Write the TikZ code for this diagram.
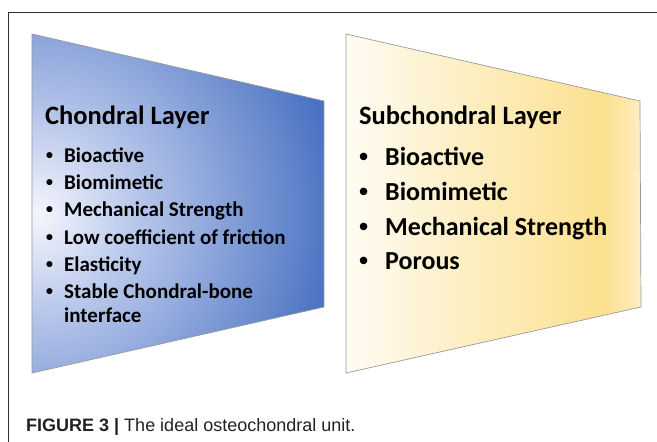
\documentclass[tikz,border=0pt]{standalone}
\usepackage{fontspec}
\setmainfont{Carlito}
\newfontfamily\capfont{Liberation Sans}
\definecolor{blA}{HTML}{F4F6FC}
\definecolor{blB}{HTML}{B9C8EB}
\definecolor{blC}{HTML}{4A72C2}
\definecolor{yA}{HTML}{FEFBF1}
\definecolor{yB}{HTML}{FDF0C9}
\definecolor{yC}{HTML}{FDE6A4}
\definecolor{yD}{HTML}{FCE08E}
\definecolor{yE}{HTML}{FDE8AE}
\definecolor{yF}{HTML}{FDF0CC}
\definecolor{edgec}{HTML}{9A9A9A}
\definecolor{framec}{HTML}{333333}
\definecolor{capc}{HTML}{222222}
\pgfdeclareradialshading{bluesh}{\pgfpoint{0bp}{0bp}}{color(0bp)=(blA); color(7bp)=(blB); color(22bp)=(blC); color(50bp)=(blC)}
\pgfdeclarehorizontalshading{yelsh}{100bp}{color(0bp)=(yA); color(25.7bp)=(yA); color(42.6bp)=(yB); color(59.6bp)=(yC); color(68bp)=(yD); color(73.1bp)=(yE); color(75bp)=(yF); color(100bp)=(yF)}
\tikzset{
  title/.style={anchor=base west, inner sep=0pt, font=\fontsize{26.5}{30}\selectfont\bfseries},
  itemA/.style={anchor=base west, inner sep=0pt, font=\fontsize{21}{24}\selectfont\bfseries},
  itemB/.style={anchor=base west, inner sep=0pt, font=\fontsize{26}{30}\selectfont\bfseries},
  panel/.style={draw=edgec, line width=0.7pt},
}
\newcommand{\bulA}{\llap{{\capfont\textbullet}\hspace{11pt}}}
\newcommand{\bulB}{\llap{{\capfont\textbullet}\hspace{17pt}}}
\begin{document}
\begin{tikzpicture}[x=1pt,y=-1pt]
\useasboundingbox (0,0) rectangle (657,442);
\draw[framec, line width=1pt] (657,12) -- (8,12) -- (8,442);
% chondral panel
\path[panel, path picture={\shade[shading=bluesh] (38,215) circle (340);}]
  (32,34) -- (324,101) -- (324,307) -- (32,373) -- cycle;
% subchondral panel
\path[panel, path picture={\shade[shading=yelsh] (346,34) rectangle (641,373);}]
  (346,34) -- (640,101) -- (641,307) -- (346,373) -- cycle;
% texts chondral
\node[title] (ct) at (45,124) {Chondral Layer};
\node[itemA] (c1) at (64,162) {\bulA Bioactive};
\node[itemA] (c2) at (64,189) {\bulA Biomimetic};
\node[itemA] (c3) at (64,216) {\bulA Mechanical Strength};
\node[itemA] (c4) at (64,244) {\bulA Low coefficient of friction};
\node[itemA] (c5) at (64,271) {\bulA Elasticity};
\node[itemA] (c6) at (64,298) {\bulA Stable Chondral-bone};
\node[itemA] (c7) at (64,322) {interface};
% texts subchondral
\node[title] (st) at (359,124) {Subchondral Layer};
\node[itemB] (s1) at (385,165) {\bulB Bioactive};
\node[itemB] (s2) at (385,200) {\bulB Biomimetic};
\node[itemB] (s3) at (385,235) {\bulB Mechanical Strength};
\node[itemB] (s4) at (385,269) {\bulB Porous};
% caption
\node[anchor=base west, inner sep=0pt, text=capc, font=\capfont\fontsize{18}{20}\selectfont] (cap) at (26,431)
  {\textbf{FIGURE 3 |} The ideal osteochondral unit.};
\end{tikzpicture}
\end{document}
